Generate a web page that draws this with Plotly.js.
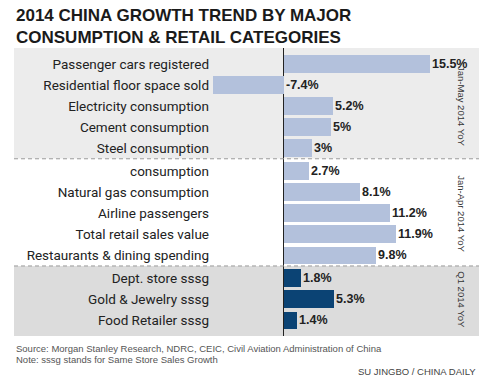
<!DOCTYPE html>
<html><head><meta charset="utf-8">
<script src="https://cdn.plot.ly/plotly-3.0.1.min.js"></script>
<style>html,body{margin:0;padding:0;background:#fff}#chart{width:481px;height:385px}</style>
</head><body><div id="chart"></div>
<script>
// ---- data ----
const categoriesJanMay = ["Passenger cars registered","Residential floor space sold","Electricity consumption","Cement consumption","Steel consumption"];
const valuesJanMay = [15.5, -7.4, 5.2, 5, 3];
const categoriesJanApr = ["consumption","Natural gas consumption","Airline passengers","Total retail sales value","Restaurants & dining spending"];
const valuesJanApr = [2.7, 8.1, 11.2, 11.9, 9.8];
const categoriesQ1 = ["Dept. store sssg","Gold & Jewelry sssg","Food Retailer sssg"];
const valuesQ1 = [1.8, 5.3, 1.4];
const groupLabels = ["Jan-May 2014 YoY","Jan-Apr 2014 YoY","Q1 2014 YoY"];
const titleText = "2014 CHINA GROWTH TREND BY MAJOR<br>CONSUMPTION & RETAIL CATEGORIES";
const sourceText = "Source: Morgan Stanley Research, NDRC, CEIC, Civil Aviation Administration of China";
const noteText = "Note: sssg stands for Same Store Sales Growth";
const creditText = "SU JINGBO / CHINA DAILY";

// ---- layout geometry ----
const W = 481, H = 385;
const M = {l: 210, r: 2, t: 48, b: 49};
const PW = W - M.l - M.r, PH = H - M.t - M.b;
const PITCH = 21.1;            // px per row
const GAP = 0.08;              // extra rows between groups
const X0PX = 283.5, PXPER = 9.47;
const xRange = [-(X0PX - M.l) / PXPER, (W - M.r - X0PX) / PXPER];
const yTop = -0.75, yBottom = yTop + PH / PITCH;
const px2paperX = px => (px - M.l) / PW;
const px2paperY = py => (H - M.b - py) / PH;
const panelLeft = px2paperX(14);

const groups = [
  {cats: categoriesJanMay, vals: valuesJanMay, color: '#b3c1dc', bg: '#ececec'},
  {cats: categoriesJanApr, vals: valuesJanApr, color: '#b3c1dc', bg: '#ffffff'},
  {cats: categoriesQ1, vals: valuesQ1, color: '#0b4374', bg: '#dcdcdc'}
];

const traces = [], tickvals = [], ticktext = [], annotations = [], shapes = [];
let row = 0, prevBottom = yTop;
const LAB = 'Roboto, "Liberation Sans", sans-serif';
const SANS = '"Liberation Sans", Arial, sans-serif';
groups.forEach((g, gi) => {
  const ys = g.cats.map((c, i) => row + i + gi * GAP);
  row += g.cats.length;
  traces.push({
    type: 'bar', orientation: 'h', x: g.vals, y: ys, width: 0.84,
    marker: {color: g.color, line: {width: 0}}, hoverinfo: 'skip', showlegend: false
  });
  ys.forEach((y, i) => {
    tickvals.push(y); ticktext.push(g.cats[i]);
    annotations.push({
      x: Math.max(g.vals[i], 0), y: y, xref: 'x', yref: 'y', text: g.vals[i] + '%',
      showarrow: false, xanchor: 'left', yanchor: 'middle', xshift: 0,
      font: {family: SANS, size: 12.5, color: '#222', weight: 'bold'}
    });
  });
  const last = gi === groups.length - 1;
  const bottom = last ? yBottom : ys[ys.length - 1] + 0.5;
  shapes.push({type: 'rect', layer: 'below', xref: 'paper', yref: 'y',
    x0: panelLeft, x1: 1, y0: prevBottom, y1: bottom, fillcolor: g.bg, line: {width: 0}});
  if (!last) {
    shapes.push({type: 'line', layer: 'above', xref: 'paper', yref: 'y',
      x0: panelLeft, x1: 1, y0: bottom, y1: bottom, line: {color: '#9a9a9a', width: 1, dash: '4px,3px'}});
  }
  annotations.push({
    x: px2paperX(462), xref: 'paper', y: (ys[0] + ys[ys.length - 1]) / 2, yref: 'y',
    text: groupLabels[gi], textangle: 90, showarrow: false, xanchor: 'center', yanchor: 'middle',
    font: {family: SANS, size: 9.5, color: '#333'}
  });
  prevBottom = bottom;
});

annotations.push(
  {x: px2paperX(14), y: px2paperY(4), xref: 'paper', yref: 'paper', text: titleText, showarrow: false,
   xanchor: 'left', yanchor: 'top', align: 'left',
   font: {family: SANS, size: 17, color: '#1a1a1a', weight: 'bold'}},
  {x: px2paperX(14), y: px2paperY(348), xref: 'paper', yref: 'paper', text: sourceText, showarrow: false,
   xanchor: 'left', yanchor: 'middle', font: {family: SANS, size: 9.5, color: '#555'}},
  {x: px2paperX(14), y: px2paperY(359), xref: 'paper', yref: 'paper', text: noteText, showarrow: false,
   xanchor: 'left', yanchor: 'middle', font: {family: SANS, size: 9.5, color: '#555'}},
  {x: px2paperX(478), y: px2paperY(371), xref: 'paper', yref: 'paper', text: creditText, showarrow: false,
   xanchor: 'right', yanchor: 'middle', font: {family: SANS, size: 9.5, color: '#444'}}
);

const layout = {
  width: W, height: H, margin: M,
  paper_bgcolor: '#ffffff', plot_bgcolor: 'rgba(0,0,0,0)',
  xaxis: {range: xRange, showgrid: false, showticklabels: false, ticks: '', zeroline: true,
          zerolinecolor: '#222', zerolinewidth: 1.5, showline: false, fixedrange: true},
  yaxis: {range: [yBottom, yTop], tickvals: tickvals, ticktext: ticktext, showgrid: false,
          zeroline: false, ticks: '', showline: false, fixedrange: true,
          tickfont: {family: LAB, size: 13.5, color: '#222'}},
  bargap: 0, shapes: shapes, annotations: annotations
};
Plotly.newPlot('chart', traces, layout, {staticPlot: true});
</script></body></html>
